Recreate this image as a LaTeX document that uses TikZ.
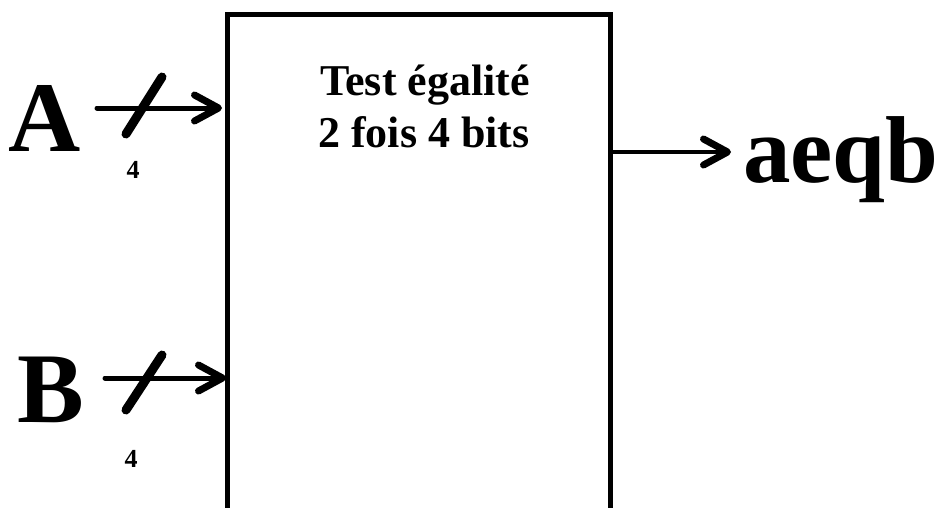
\documentclass[tikz,border=0pt]{standalone}
\usepackage{fontspec}
\setmainfont{Liberation Serif}
\usetikzlibrary{arrows.meta}
\tikzset{
  wire/.style={line width=5pt, line cap=round, line join=round,
    -{Straight Barb[length=24pt,width=26pt,line width=7pt,round]}},
  slashline/.style={line width=9pt, line cap=round},
  boxline/.style={line width=5pt, line join=miter},
  biglabel/.style={inner sep=0pt, anchor=base, font=\fontsize{100}{100}\selectfont\bfseries},
  widthlabel/.style={inner sep=0pt, anchor=base, font=\fontsize{26}{26}\selectfont\bfseries},
  titlelabel/.style={inner sep=0pt, anchor=base, font=\fontsize{44}{52}\selectfont\bfseries}
}
\begin{document}
\begin{tikzpicture}[x=1pt,y=-1pt]
\useasboundingbox (0,0) rectangle (944,507);
% box (open at the bottom)
\coordinate (bl) at (227.5,512);
\coordinate (tl) at (227.5,14.5);
\coordinate (tr) at (610,14.5);
\coordinate (br) at (610,512);
\draw[boxline] (bl) -- (tl) -- (tr) -- (br);
\node[titlelabel] (title1) at (425,95) {Test égalité};
\node[titlelabel] (title2) at (424,147) {2 fois 4 bits};
% inputs
\node[biglabel] (A) at (45,151) {A};
\node[biglabel] (B) at (51,422) {B};
\coordinate (Astart) at (97,108);
\coordinate (Aend) at (222,108);
\coordinate (Bstart) at (105,378);
\coordinate (Bend) at (226,378);
\draw[wire] (Astart) -- (Aend);
\draw[wire] (Bstart) -- (Bend);
\coordinate (As1) at (126,134); \coordinate (As2) at (162,77);
\coordinate (Bs1) at (126,410); \coordinate (Bs2) at (162,355);
\draw[slashline] (As1) -- (As2);
\draw[slashline] (Bs1) -- (Bs2);
\node[widthlabel] (A4) at (133,178) {4};
\node[widthlabel] (B4) at (131,467) {4};
% output
\node[biglabel, anchor=base west, font=\fontsize{95}{95}\selectfont\bfseries] (out) at (743,182) {aeqb};
\coordinate (Ostart) at (612,152);
\coordinate (Oend) at (731,152);
\draw[wire, line width=4pt] (Ostart) -- (Oend);
\end{tikzpicture}
\end{document}
